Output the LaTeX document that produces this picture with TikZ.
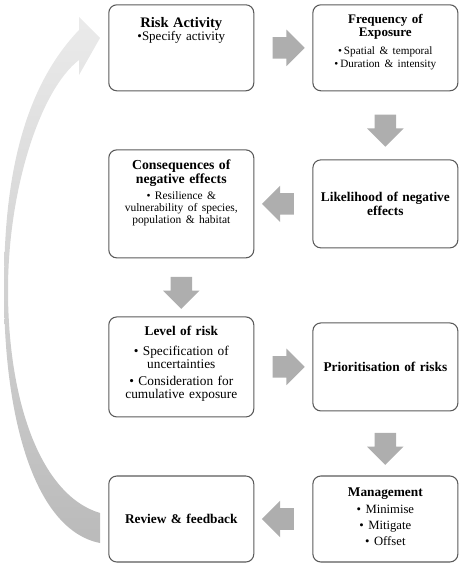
\documentclass[tikz,border=0pt]{standalone}
\usepackage{fontspec}
\setmainfont{Liberation Serif}
\usepackage{tikz}
\usetikzlibrary{calc, shapes, shapes.arrows, arrows, matrix}
\tikzset{>=latex}
\definecolor{boxgray}{RGB}{90,90,90}
\definecolor{arrowgray}{RGB}{174,174,174}
\lineskiplimit=-10pt
\newcommand\padbelow[1]{\par\vskip#1\nointerlineskip\hbox{}}

\begin{document}
\begin{tikzpicture}[x=0.75pt, y=-0.75pt,
box/.style={draw=boxgray, line width=0.8pt, rounded corners=6pt, minimum width=108.75pt,
  text width=104pt, align=center, inner sep=0pt, font=\fontsize{10}{10}\selectfont},
blockarrow/.style={single arrow, fill=arrowgray, inner xsep=0pt, inner ysep=7.9pt,
  minimum height=24pt, single arrow head extend=5.6pt}
]
\useasboundingbox (0,0) rectangle (459,564);

% feedback loop
\shade[top color=black!8, bottom color=black!27]
(100,543) .. controls (35,530) and (4,420) .. (4,290)
.. controls (4,210) and (12,100) .. (79,30) -- (79,17) -- (100,38) -- (79,75) -- (79,60)
.. controls (40,90) and (8,190) .. (8,290)
.. controls (8,400) and (40,495) .. (100,513) -- cycle;

\matrix (m) 
[matrix anchor=north west, inner sep=0pt, row sep=43.5pt, column sep=43.5pt]
at (108,4)
{
\node[box, minimum height=64.5pt] (risk) {\fontsize{10.9}{10}\selectfont\textbf{Risk Activity}\par
  \fontsize{9.75}{10}\selectfont\textbullet Specify activity\padbelow{26pt}}; &
\node[box, minimum height=64.5pt] (freq) {\fontsize{9.8}{10}\selectfont\textbf{Frequency of\\ Exposure}\par\vspace{3.3pt}
  \fontsize{8.4}{10}\selectfont\textbullet\,Spatial \& temporal\\ \textbullet\,Duration \& intensity\padbelow{8.7pt}}; \\
\node[box, minimum height=81pt] (cons) {\fontsize{10.3}{10}\selectfont\textbf{Consequences of\\ negative effects}\par\vspace{2.8pt}
  \fontsize{8.6}{9.2}\selectfont\textbullet{} Resilience \&\\ vulnerability of species,\\ population \& habitat\padbelow{16.2pt}}; &
\node[box, minimum height=66pt] (lik) {\textbf{Likelihood of negative\\ effects}}; \\
\node[box, minimum height=75pt] (level) {\textbf{Level of risk}\par\vspace{5pt}
  \textbullet{} Specification of\\ uncertainties\par\vspace{2.5pt}
  \textbullet{} Consideration for\\ cumulative exposure\padbelow{4.5pt}}; &
\node[box, minimum height=66pt] (prior) {\textbf{Prioritisation of risks}}; \\
\node[box, minimum height=64.5pt] (review) {\textbf{Review \& feedback}}; &
\node[box, minimum height=64.5pt] (mgmt) {\textbf{Management}\par\vspace{1pt}
  \fontsize{9.5}{12}\selectfont\textbullet{} Minimise\\ \textbullet{} Mitigate\\ \textbullet{} Offset\padbelow{3pt}}; \\
};

\node[blockarrow] (a1) at ($(risk.east)!0.5!(freq.west)$) {};
\node[blockarrow, rotate=-90] (a2) at ($(freq.south)!0.5!(lik.north)$) {};
\node[blockarrow, rotate=180] (a3) at ($(lik.west)!0.5!(cons.east)$) {};
\node[blockarrow, rotate=-90] (a4) at ($(cons.south)!0.5!(level.north)$) {};
\node[blockarrow] (a5) at ($(level.east)!0.5!(prior.west)$) {};
\node[blockarrow, rotate=-90] (a6) at ($(prior.south)!0.5!(mgmt.north)$) {};
\node[blockarrow, rotate=180] (a7) at ($(mgmt.west)!0.5!(review.east)$) {};
\end{tikzpicture}
\end{document}
